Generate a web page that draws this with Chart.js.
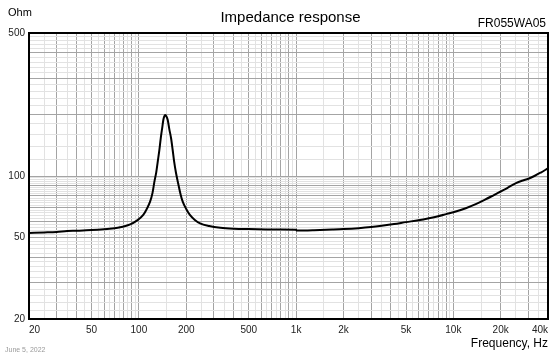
<!DOCTYPE html>
<html>
<head>
<meta charset="utf-8">
<script src="https://cdn.jsdelivr.net/npm/chart.js@4.4.1/dist/chart.umd.min.js"></script>
<style>
html,body{margin:0;padding:0;background:#fff;}
#wrap{width:560px;height:356px;position:relative;}
</style>
</head>
<body>
<div id="wrap"><canvas id="c" width="560" height="356"></canvas></div>
<script>
// ---- data ----
const freq = [20, 25, 30, 35, 40, 50, 60, 65, 70, 76, 82, 88, 97, 106.6, 112, 117.8, 122, 125.5, 129, 131.8, 135, 137.7, 141, 143, 145, 147, 149.5, 152.6, 156, 160.2, 164, 167.6, 172, 176.8, 184, 190, 200, 211, 227, 245, 280, 330, 400, 500, 650, 800, 1000, 1010, 1300, 1700, 2000, 2500, 3000, 3500, 4200, 5000, 6000, 7000, 8000, 9000, 10000, 12000, 14000, 16000, 18000, 20000, 22000, 24000, 26000, 28000, 30000, 33000, 36000, 40000];
const ohm = [52.7, 53.0, 53.3, 53.8, 54.0, 54.4, 54.9, 55.2, 55.6, 56.2, 57.0, 58.0, 60.5, 64.5, 68.8, 74.9, 82.5, 93.8, 104.5, 117.5, 134, 152.9, 174, 187.8, 195.5, 198.8, 196, 187.8, 170, 152.9, 134, 117.5, 104, 93.8, 81.5, 74.9, 69.0, 64.5, 61.0, 58.7, 57.0, 55.9, 55.3, 55.0, 54.8, 54.7, 54.6, 54.1, 54.3, 54.7, 55.0, 55.6, 56.3, 57.1, 58.2, 59.5, 60.8, 62.2, 63.6, 65.1, 66.5, 69.6, 73.0, 76.8, 80.5, 84.0, 87.3, 90.8, 93.5, 95.3, 97.0, 100.3, 104.0, 109.0];

const xLabelValues = [20, 50, 100, 200, 500, 1000, 2000, 5000, 10000, 20000, 40000];
const xLabelTexts  = ['20', '50', '100', '200', '500', '1k', '2k', '5k', '10k', '20k', '40k'];
const yLabelValues = [20, 50, 100, 500];
const yLabelTexts  = ['20', '50', '100', '500'];

const titleText = 'Impedance response';
const modelText = 'FR055WA05';
const yUnitText = 'Ohm';
const xUnitText = 'Frequency, Hz';
const dateText  = 'June 5, 2022';

// ---- grid tick values ----
function xGridValues() {
  const out = [];
  for (let d = 10; d <= 10000; d *= 10) {
    for (let m = 1; m < 10; m += 0.5) {
      const v = Math.round(m * d);
      if (v >= 20 && v <= 40000) out.push(v);
    }
  }
  return out;
}
function yGridValues() {
  const out = [];
  for (let v = 20; v < 100; v += 2) out.push(v);
  for (let v = 100; v <= 500; v += 20) out.push(v);
  return out;
}
function isMajorX(v) {
  const d = Math.pow(10, Math.floor(Math.log10(v) + 1e-9));
  return Math.abs(v / d - Math.round(v / d)) < 1e-6;
}
function isMajorY(v) {
  if (v < 100) return v % 10 === 0;
  return v % 100 === 0;
}

const MAJOR = '#a4a4a4';
const MINOR = '#e2e2e2';
const FONT = "'Liberation Sans', Arial, sans-serif";

const textPlugin = {
  id: 'texts',
  afterDraw(chart) {
    const ctx = chart.ctx;
    const a = chart.chartArea;
    ctx.save();
    // frame
    ctx.strokeStyle = '#000';
    ctx.lineWidth = 2;
    ctx.strokeRect(a.left, a.top, a.right - a.left, a.bottom - a.top);
    ctx.fillStyle = '#000';
    ctx.textBaseline = 'middle';
    ctx.font = '15px ' + FONT;
    ctx.textAlign = 'center';
    ctx.fillText(titleText, (a.left + a.right) / 2 + 2, 18);
    ctx.font = '11px ' + FONT;
    ctx.textAlign = 'left';
    ctx.fillText(yUnitText, 8, 13);
    ctx.font = '12px ' + FONT;
    ctx.textAlign = 'right';
    ctx.fillText(modelText, a.right - 2, 24);
    ctx.fillText(xUnitText, a.right, 344);
    ctx.font = '7px ' + FONT;
    ctx.fillStyle = '#9a9a9a';
    ctx.textAlign = 'left';
    ctx.fillText(dateText, 5, 350);
    ctx.restore();
  }
};

const points = freq.map((f, i) => ({x: f, y: ohm[i]}));

new Chart(document.getElementById('c'), {
  type: 'line',
  data: {
    datasets: [{
      data: points,
      borderColor: '#000',
      borderWidth: 2,
      pointRadius: 0,
      fill: false,
      cubicInterpolationMode: 'monotone'
    }]
  },
  options: {
    responsive: false,
    animation: false,
    events: [],
    layout: {padding: {top: 33, right: 12, left: 0, bottom: 0}},
    plugins: {legend: {display: false}, title: {display: false}, tooltip: {enabled: false}},
    scales: {
      x: {
        type: 'logarithmic',
        min: 20, max: 40000,
        afterBuildTicks: s => { s.ticks = xGridValues().map(v => ({value: v})); },
        afterFit: s => { s.height = 37; },
        grid: {
          drawTicks: false,
          lineWidth: 1,
          color: c => (c.tick && isMajorX(c.tick.value)) ? MAJOR : MINOR
        },
        border: {display: false},
        ticks: {
          autoSkip: false,
          maxRotation: 0,
          minRotation: 0,
          align: 'inner',
          padding: 5,
          color: '#222',
          font: {family: FONT, size: 10},
          callback: v => {
            const i = xLabelValues.indexOf(v);
            return i >= 0 ? xLabelTexts[i] : '';
          }
        }
      },
      y: {
        type: 'logarithmic',
        min: 20, max: 500,
        afterBuildTicks: s => { s.ticks = yGridValues().map(v => ({value: v})); },
        afterFit: s => { s.width = 29; },
        grid: {
          drawTicks: false,
          lineWidth: 1,
          color: c => (c.tick && isMajorY(c.tick.value)) ? MAJOR : MINOR
        },
        border: {display: false},
        ticks: {
          autoSkip: false,
          padding: 4,
          color: '#222',
          font: {family: FONT, size: 10},
          callback: v => {
            const i = yLabelValues.indexOf(v);
            return i >= 0 ? yLabelTexts[i] : '';
          }
        }
      }
    }
  },
  plugins: [textPlugin]
});
</script>
</body>
</html>
